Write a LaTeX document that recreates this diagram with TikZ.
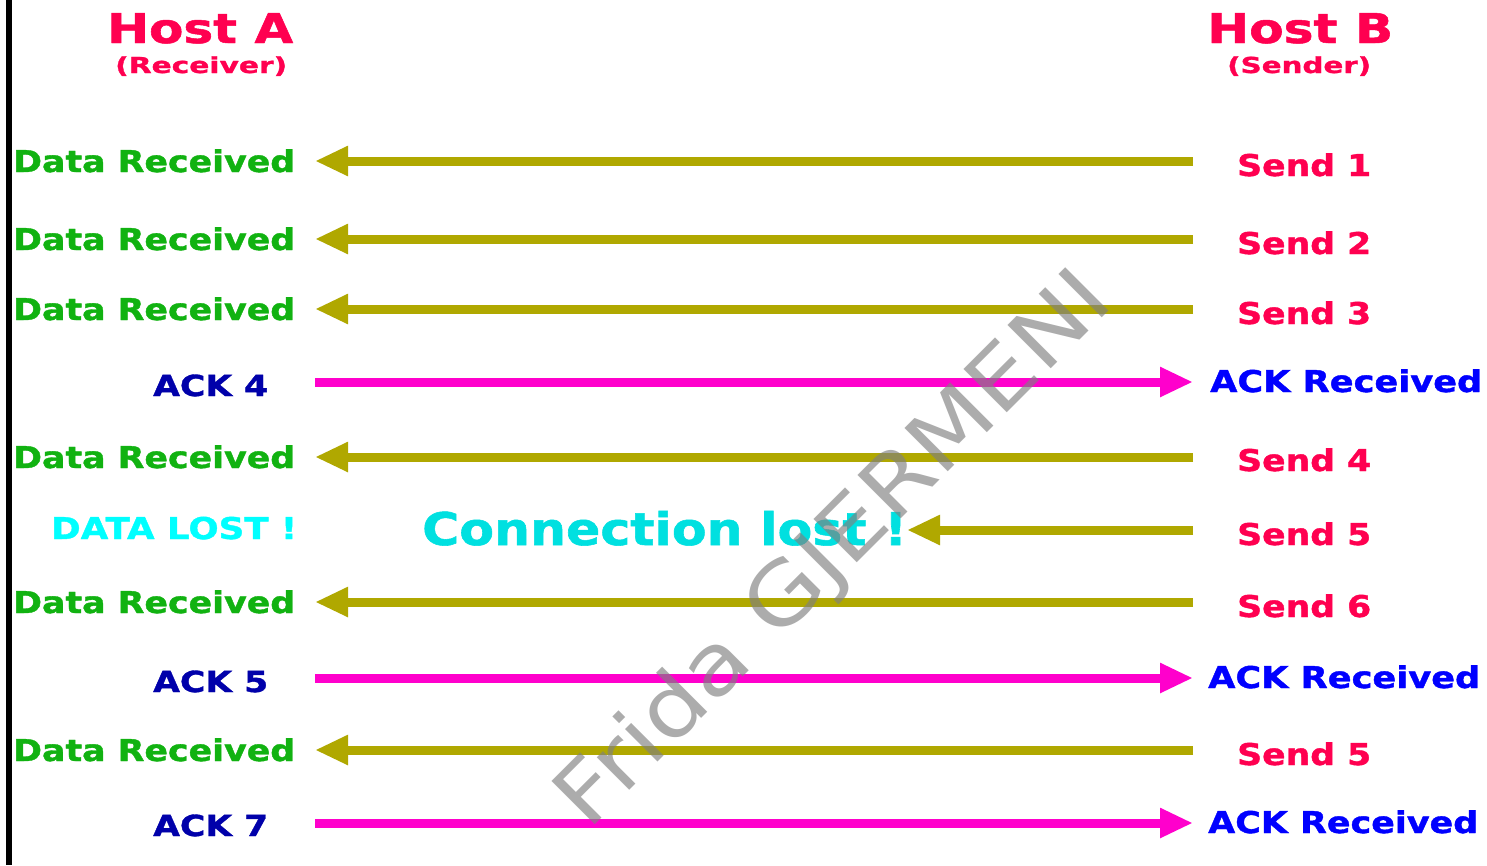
\documentclass[tikz,border=0pt]{standalone}
\usepackage{fontspec}
\setmainfont{DejaVu Sans}[BoldFeatures={FakeBold=1.2}]
\usepackage{graphicx}
\usetikzlibrary{arrows.meta}

\definecolor{olivearrow}{RGB}{176,168,0}
\definecolor{ackpink}{RGB}{255,0,204}
\definecolor{hostred}{RGB}{255,0,80}
\definecolor{datagreen}{RGB}{17,178,17}
\definecolor{ackblue}{RGB}{0,0,255}
\definecolor{acknavy}{RGB}{0,0,170}
\definecolor{lostcyan}{RGB}{0,255,255}
\definecolor{conncyan}{RGB}{0,224,224}

% stretch a label horizontally to a given width (in pt), keeping its height
\newcommand\fitw[2]{\resizebox{#1pt}{\height}{#2}}

\begin{document}
\begin{tikzpicture}[x=1pt,y=-1pt,
  lbl/.style={anchor=base west, inner sep=0pt, font=\bfseries\fontsize{30}{30}\selectfont},
  hostlbl/.style={lbl, text=hostred, font=\bfseries\fontsize{41}{41}\selectfont},
  rolelbl/.style={lbl, text=hostred, font=\bfseries\fontsize{22}{22}\selectfont},
  datalbl/.style={lbl, text=datagreen},
  sendlbl/.style={lbl, text=hostred},
  acklbl/.style={lbl, text=acknavy, font=\bfseries\fontsize{29}{29}\selectfont},
  ackrcv/.style={lbl, text=ackblue},
  datasig/.style={draw=olivearrow, line width=9pt, -{Triangle[length=33pt,width=28pt]}},
  acksig/.style={draw=ackpink, line width=9pt, -{Triangle[length=33pt,width=28pt]}},
]
\useasboundingbox (0,0) rectangle (1487,865);
\fill[white] (0,0) rectangle (1487,865);

% timeline of the receiver
\fill[black] (6,0) rectangle (12,865);

% hosts
\node[hostlbl] (hostA) at (107,43) {\fitw{186}{Host A}};
\node[rolelbl] (roleA) at (115,73) {\fitw{172}{(Receiver)}};
\node[hostlbl] (hostB) at (1207,43) {\fitw{186}{Host B}};
\node[rolelbl] (roleB) at (1227,73) {\fitw{144}{(Sender)}};

% arrow end points: left side (receiver) and right side (sender)
\foreach \r/\y in {1/161,2/239,3/309,4/382,5/457,6/530,7/602,8/678,9/750,10/823}{
  \coordinate (L\r) at (315,\y);
  \coordinate (R\r) at (1193,\y);
}
\coordinate (lost) at (907,530);

% messages
\draw[datasig] (R1) -- (L1);
\draw[datasig] (R2) -- (L2);
\draw[datasig] (R3) -- (L3);
\draw[acksig]  (L4) -- (R4);
\draw[datasig] (R5) -- (L5);
\draw[datasig] (R6) -- (lost);
\draw[datasig] (R7) -- (L7);
\draw[acksig]  (L8) -- (R8);
\draw[datasig] (R9) -- (L9);
\draw[acksig]  (L10) -- (R10);

% receiver side labels
\node[datalbl] (d1) at (13,172) {\fitw{282}{Data Received}};
\node[datalbl] (d2) at (13,250) {\fitw{282}{Data Received}};
\node[datalbl] (d3) at (13,320) {\fitw{282}{Data Received}};
\node[acklbl]  (a4) at (153,396) {\fitw{115}{ACK 4}};
\node[datalbl] (d5) at (13,468) {\fitw{282}{Data Received}};
\node[lbl, text=lostcyan] (dl) at (51,539) {\fitw{246}{DATA LOST !}};
\node[lbl, text=conncyan, font=\bfseries\fontsize{45}{45}\selectfont] (cl) at (422,545) {\fitw{485}{Connection lost !}};
\node[datalbl] (d7) at (13,613) {\fitw{282}{Data Received}};
\node[acklbl]  (a5) at (153,692) {\fitw{115}{ACK 5}};
\node[datalbl] (d9) at (13,761) {\fitw{282}{Data Received}};
\node[acklbl]  (a7) at (153,836) {\fitw{115}{ACK 7}};

% sender side labels
\node[sendlbl] (s1) at (1237,176) {\fitw{134}{Send 1}};
\node[sendlbl] (s2) at (1237,254) {\fitw{134}{Send 2}};
\node[sendlbl] (s3) at (1237,324) {\fitw{134}{Send 3}};
\node[ackrcv]  (k4) at (1210,392) {\fitw{272}{ACK Received}};
\node[sendlbl] (s4) at (1237,471) {\fitw{134}{Send 4}};
\node[sendlbl] (s5) at (1237,545) {\fitw{134}{Send 5}};
\node[sendlbl] (s6) at (1237,617) {\fitw{134}{Send 6}};
\node[ackrcv]  (k8) at (1208,688) {\fitw{272}{ACK Received}};
\node[sendlbl] (s9) at (1237,765) {\fitw{134}{Send 5}};
\node[ackrcv]  (k10) at (1208,833) {\fitw{270}{ACK Received}};

% author mark
\node[anchor=base, inner sep=0pt, rotate=45, text=black!50, text opacity=0.65,
      font=\fontsize{84}{84}\selectfont] (mark) at (852,568) {\fitw{745}{Frida GJERMENI}};
\end{tikzpicture}
\end{document}
